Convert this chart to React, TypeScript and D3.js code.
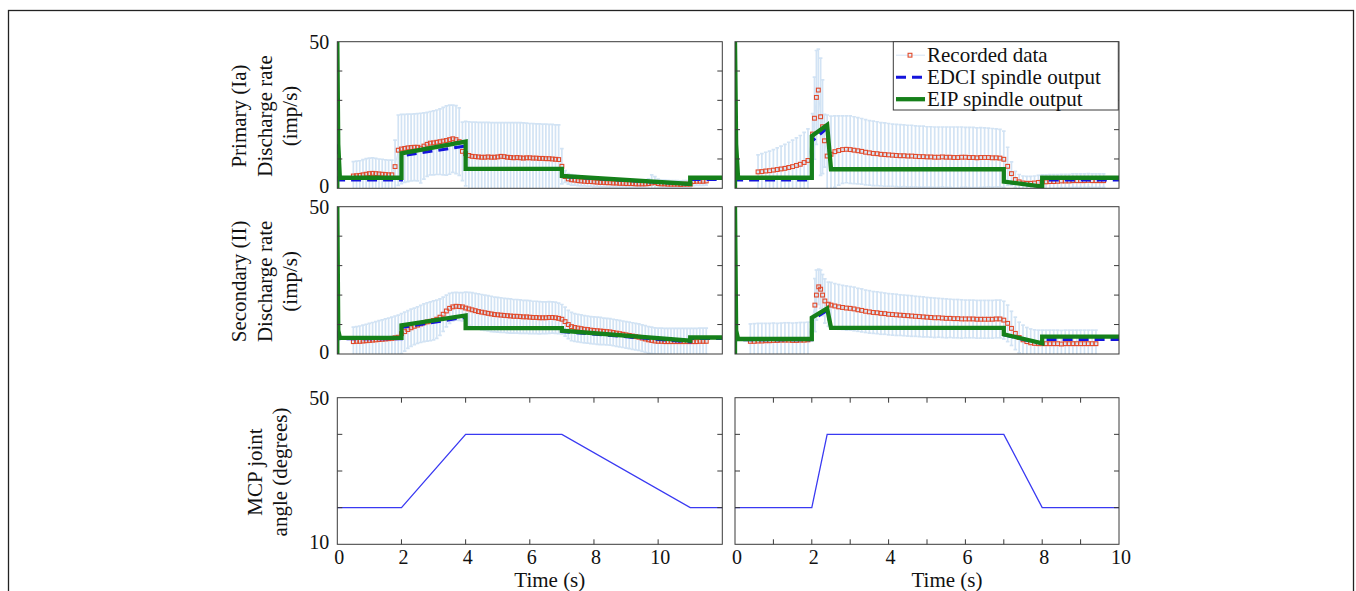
import * as d3 from "d3";

type Pt = [number, number];
type Rec = { t: number; m: number; s: number };

// recorded data is sampled every 0.1 s (the spike samples around 2 s are listed with their own times)
const STEP = 0.1;

// ---- Primary (Ia), slow stretch (left column) ----
const ia1Start = 0.5;
const ia1Mean = [
  4.2, 4.3, 4.4, 4.6, 4.8, 5.0, 5.1, 5.0, 4.9, 4.8, 4.7, 4.6, 4.6,
  7.4, 13.0, 13.4, 13.6, 13.8, 13.9, 14.0, 14.0, 13.7, 14.4,
  15.0, 15.4, 15.5, 15.7, 15.9, 16.1, 16.3, 16.6, 16.9, 16.6,
  15.9, 12.6, 11.8, 11.2, 10.9, 10.8, 10.7, 10.6, 10.6, 10.7,
  10.6, 10.6, 10.7, 10.9, 10.8, 10.6, 10.5, 10.4, 10.5, 10.4,
  10.3, 10.4, 10.4, 10.3, 10.3, 10.2, 10.2, 10.1, 10.1, 10.0,
  9.9, 9.8, 7.5, 4.0, 3.2, 2.9, 2.8, 2.6, 2.5, 2.4,
  2.3, 2.3, 2.2, 2.1, 2.0, 2.0, 1.9, 1.9, 1.8, 1.8,
  1.7, 1.7, 1.6, 1.6, 1.6, 1.5, 1.5, 1.5, 1.5, 1.6,
  1.8, 2.0, 1.6, 1.5, 1.5, 1.4, 1.4, 1.4, 1.4, 1.3,
  1.4, 1.4, 1.4, 2.3, 2.4, 2.4, 2.4, 2.5,
];
const ia1Sd = [
  4.9, 5.0, 5.0, 5.2, 5.3, 5.3, 5.3, 5.2, 5.1, 5.1, 5.0, 5.0, 5.0,
  9.0, 12.0, 11.8, 11.6, 11.5, 11.4, 11.4, 11.5, 11.9, 11.3,
  10.9, 10.8, 10.9, 11.0, 11.2, 11.5, 11.8, 11.8, 11.5, 11.6,
  11.5, 10.0, 11.0, 11.5, 11.7, 11.8, 11.8, 11.9, 11.9, 11.8,
  11.8, 11.8, 11.7, 11.5, 11.6, 11.8, 11.9, 12.0, 11.9, 12.0,
  12.0, 11.8, 11.7, 11.8, 11.7, 11.8, 11.7, 11.8, 11.7, 11.8,
  11.7, 11.8, 6.0, 2.0, 1.8, 1.8, 1.7, 1.7, 1.7, 1.6,
  1.6, 1.6, 1.6, 1.5, 1.5, 1.5, 1.5, 1.5, 1.5, 1.4,
  1.4, 1.4, 1.4, 1.4, 1.4, 1.4, 1.3, 1.3, 1.4, 1.6,
  2.8, 2.0, 1.5, 1.3, 1.3, 1.3, 1.2, 1.2, 1.2, 1.2,
  1.2, 1.2, 1.2, 1.4, 1.4, 1.4, 1.4, 1.4,
];
const ia1Eip: Pt[] = [[0, 0], [0, 50], [0.03, 15], [0.08, 3.6], [2, 3.6], [2, 11.9], [4, 15.9], [4, 6.6], [7, 6.6], [7, 4.2], [11, 1.5], [11, 3.6], [12, 3.6]];
const ia1Edci: Pt[] = [[0, 15], [0.05, 2.8], [2, 2.8], [2, 11.1], [4, 14.4], [4, 6.5], [7, 6.5], [7, 4.0], [11, 1.4], [11, 3.0], [12, 3.0]];

// ---- Primary (Ia), fast stretch (right column) ----
const ia2PreStart = 0.6;
const ia2PreMean = [5.6, 5.7, 5.9, 6.0, 6.2, 6.4, 6.6, 6.8, 7.1, 7.4, 7.8, 8.2, 8.8, 9.5];
const ia2PreSd = [5.8, 6.1, 6.4, 6.7, 7.0, 7.4, 7.8, 8.2, 8.6, 9.0, 9.4, 9.8, 10.3, 10.8];
const ia2SpikeT = [2.02, 2.07, 2.12, 2.17, 2.23, 2.28, 2.33];
const ia2SpikeMean = [18.5, 23.9, 31.0, 33.5, 24.4, 21.0, 16.2];
const ia2SpikeSd = [7.0, 14.0, 16.0, 14.0, 20.0, 16.0, 9.0];
const ia2PostStart = 2.4;
const ia2PostMean = [
  11.0, 11.6, 12.5, 12.9, 13.2, 13.3, 13.2, 13.0, 12.8, 12.6,
  12.3, 12.1, 11.9, 11.8, 11.6, 11.5, 11.4, 11.3, 11.2, 11.1,
  11.1, 11.0, 11.0, 10.9, 10.8, 10.8, 10.7, 10.7, 10.6, 10.6,
  10.7, 10.6, 10.6, 10.5, 10.5, 10.6, 10.6, 10.5, 10.5, 10.4,
  10.5, 10.5, 10.5, 10.4, 10.4, 10.3, 9.9, 7.5, 5.0, 3.0,
  2.2, 1.8, 1.7, 1.7, 1.8, 2.0, 2.2, 2.2, 2.3, 2.3,
  2.4, 2.5, 2.5, 2.5, 2.6, 2.6, 2.6, 2.6, 2.7, 2.6,
  2.6, 2.6, 2.6,
];
const ia2PostSd = [
  14.0, 13.0, 12.2, 11.8, 11.5, 11.4, 11.5, 11.4, 11.3, 11.2,
  11.1, 11.0, 11.0, 10.9, 10.8, 10.8, 10.7, 10.6, 10.6, 10.6,
  10.5, 10.5, 10.5, 10.4, 10.4, 10.4, 10.3, 10.3, 10.3, 10.3,
  10.2, 10.3, 10.3, 10.4, 10.4, 10.3, 10.2, 10.3, 10.3, 10.2,
  10.2, 10.1, 10.0, 10.0, 9.9, 9.8, 9.6, 6.5, 4.0, 2.8,
  2.5, 2.4, 2.4, 2.4, 2.4, 2.4, 2.4, 2.4, 2.4, 2.4,
  2.3, 2.3, 2.3, 2.3, 2.3, 2.3, 2.3, 2.3, 2.3, 2.3,
  2.3, 2.3, 2.3,
];
const ia2Eip: Pt[] = [[0, 0], [0, 50], [0.03, 15], [0.08, 3.6], [2, 3.6], [2, 17.8], [2.4, 21.6], [2.5, 6.5], [7, 6.5], [7, 2.3], [8, 0.6], [8, 3.6], [10, 3.6]];
const ia2Edci: Pt[] = [[0, 15], [0.05, 2.8], [2, 2.8], [2, 16], [2.4, 20.5], [2.5, 6.4], [7, 6.4], [7, 2.2], [8, 0.6], [8, 2.8], [10, 2.8]];

// ---- Secondary (II), slow stretch ----
const ii1Start = 0.5;
const ii1Mean = [
  4.2, 4.3, 4.3, 4.4, 4.5, 4.6, 4.7, 4.8, 4.9, 5.0,
  5.1, 5.2, 5.3, 5.5, 5.7, 6.9, 7.6, 8.3, 8.9, 9.4,
  9.8, 10.2, 10.6, 10.9, 11.1, 11.4, 11.8, 12.5, 13.5, 14.6,
  15.5, 16.0, 16.2, 16.1, 16.0, 15.6, 15.3, 15.0, 14.7, 14.4,
  14.2, 14.0, 13.8, 13.6, 13.4, 13.3, 13.2, 13.1, 13.0, 12.9,
  12.8, 12.8, 12.7, 12.6, 12.6, 12.5, 12.4, 12.4, 12.3, 12.3,
  12.3, 12.4, 12.4, 12.3, 12.1, 11.8, 11.0, 10.0, 9.3, 9.0,
  8.8, 8.6, 8.4, 8.3, 8.1, 8.0, 7.9, 7.8, 7.7, 7.6,
  7.5, 7.3, 7.1, 6.9, 6.7, 6.5, 6.3, 6.1, 5.9, 5.7,
  5.4, 5.1, 4.8, 4.6, 4.4, 4.3, 4.3, 4.2, 4.2, 4.2,
  4.2, 4.2, 4.2, 4.2, 4.2, 4.2, 4.2, 4.2, 4.3, 4.3, 4.3,
];
const ii1Sd = [
  4.9, 5.0, 5.2, 5.4, 5.6, 5.8, 6.0, 6.2, 6.4, 6.6,
  6.8, 7.0, 7.2, 7.4, 7.5, 6.8, 6.6, 6.4, 6.3, 6.2,
  6.2, 6.3, 6.4, 6.5, 6.6, 6.6, 6.5, 6.2, 5.8, 5.4,
  5.1, 4.8, 4.7, 4.7, 4.8, 5.4, 5.6, 5.8, 5.9, 6.0,
  6.0, 6.0, 6.0, 6.0, 5.9, 5.9, 5.9, 5.8, 5.8, 5.8,
  5.7, 5.7, 5.7, 5.6, 5.6, 5.6, 5.5, 5.5, 5.5, 5.4,
  5.4, 5.4, 5.3, 5.3, 5.2, 5.0, 4.9, 4.8, 4.8, 4.7,
  4.7, 4.7, 4.6, 4.6, 4.6, 4.6, 4.6, 4.6, 4.5, 4.5,
  4.5, 4.5, 4.5, 4.5, 4.5, 4.5, 4.5, 4.5, 4.5, 4.5,
  4.5, 4.5, 4.5, 4.5, 4.5, 4.5, 4.5, 4.5, 4.5, 4.5,
  4.5, 4.5, 4.5, 4.5, 4.5, 4.5, 4.5, 4.5, 4.5, 4.5, 4.5,
];
const ii1Eip: Pt[] = [[0, 0], [0, 50], [0.03, 8], [0.08, 5.5], [2, 5.5], [2, 9.7], [4, 13.1], [4, 8.8], [7, 8.8], [7, 7.9], [11, 4.5], [11, 5.6], [12, 5.6]];
const ii1Edci: Pt[] = [[0, 8], [0.05, 5.2], [2, 5.2], [2, 9.0], [4, 12.5], [4, 8.7], [7, 8.7], [7, 7.6], [11, 4.1], [11, 5.3], [12, 5.3]];

// ---- Secondary (II), fast stretch ----
const ii2PreStart = 0.4;
const ii2PreMean = [4.3, 4.3, 4.4, 4.4, 4.5, 4.5, 4.6, 4.6, 4.7, 4.7, 4.7, 4.6, 4.6, 4.7, 4.7, 4.8];
const ii2PreSd = [5.9, 6.0, 6.0, 6.0, 5.9, 5.9, 5.9, 5.8, 5.8, 5.9, 5.9, 5.9, 6.0, 6.0, 6.0, 6.0];
const ii2SpikeT = [2.08, 2.12, 2.18, 2.23, 2.28, 2.34, 2.43];
const ii2SpikeMean = [16.6, 20.0, 22.8, 22.0, 20.0, 18.0, 16.9];
const ii2SpikeSd = [9.0, 8.5, 6.0, 6.5, 7.0, 7.5, 7.5];
const ii2PostStart = 2.5;
const ii2PostMean = [
  16.6, 16.3, 16.0, 15.8, 15.6, 15.5, 15.3, 15.0, 14.8, 14.5,
  14.3, 14.1, 14.0, 13.8, 13.7, 13.5, 13.4, 13.3, 13.2, 13.1,
  13.0, 12.9, 12.8, 12.7, 12.6, 12.5, 12.4, 12.3, 12.3, 12.2,
  12.1, 12.1, 12.0, 12.0, 11.9, 11.9, 11.9, 11.9, 11.8, 11.8,
  11.8, 11.8, 11.8, 11.9, 11.9, 11.5, 10.4, 8.7, 7.0, 5.6,
  4.8, 4.2, 3.8, 3.6, 3.5, 3.5, 3.5, 3.5, 3.5, 3.5,
  3.4, 3.5, 3.5, 3.5, 3.5, 3.5, 3.5, 3.5, 3.5, 3.5,
];
const ii2PostSd = [
  7.7, 7.6, 7.6, 7.5, 7.5, 7.4, 7.4, 7.3, 7.3, 7.2,
  7.2, 7.1, 7.1, 7.1, 7.0, 7.0, 7.0, 7.0, 6.9, 6.9,
  6.9, 6.9, 6.8, 6.8, 6.8, 6.7, 6.7, 6.7, 6.6, 6.6,
  6.6, 6.5, 6.5, 6.5, 6.5, 6.4, 6.4, 6.4, 6.4, 6.4,
  6.4, 6.4, 6.4, 6.4, 6.4, 6.4, 6.2, 5.8, 5.5, 5.2,
  5.0, 4.8, 4.7, 4.6, 4.6, 4.6, 4.6, 4.6, 4.6, 4.6,
  4.6, 4.6, 4.6, 4.6, 4.6, 4.6, 4.6, 4.6, 4.6, 4.6,
];
const ii2Eip: Pt[] = [[0, 0], [0, 50], [0.03, 8], [0.08, 5.1], [2, 5.1], [2, 12.3], [2.4, 15.5], [2.5, 8.9], [7, 8.9], [7, 6.7], [8, 3.6], [8, 5.9], [10, 5.9]];
const ii2Edci: Pt[] = [[0, 8], [0.05, 4.8], [2, 4.8], [2, 11.5], [2.4, 14.8], [2.5, 8.8], [7, 8.8], [7, 6.5], [8, 3.5], [8, 4.9], [10, 4.9]];

// ---- MCP joint angle ----
const mcpSlow: Pt[] = [[0, 20], [2, 20], [4, 40], [7, 40], [11, 20], [12, 20]];
const mcpFast: Pt[] = [[0, 20], [2, 20], [2.4, 40], [7, 40], [8, 20], [10, 20]];

const xTickLabels = [0, 2, 4, 6, 8, 10];
const legendItems = ["Recorded data", "EDCI spindle output", "EIP spindle output"];
const yTitles = [
  ["Primary (Ia)", "Discharge rate", "(imp/s)"],
  ["Secondary (II)", "Discharge rate", "(imp/s)"],
  ["MCP joint", "angle (degrees)"],
];

const seq = (t0: number, m: number[], s: number[]): Rec[] =>
  m.map((v, i) => ({ t: +(t0 + i * STEP).toFixed(2), m: v, s: s[i] }));
const pick = (ts: number[], m: number[], s: number[]): Rec[] =>
  ts.map((t, i) => ({ t, m: m[i], s: s[i] }));

const ia1 = seq(ia1Start, ia1Mean, ia1Sd);
const ia2 = [...seq(ia2PreStart, ia2PreMean, ia2PreSd), ...pick(ia2SpikeT, ia2SpikeMean, ia2SpikeSd), ...seq(ia2PostStart, ia2PostMean, ia2PostSd)];
const ii1 = seq(ii1Start, ii1Mean, ii1Sd);
const ii2 = [...seq(ii2PreStart, ii2PreMean, ii2PreSd), ...pick(ii2SpikeT, ii2SpikeMean, ii2SpikeSd), ...seq(ii2PostStart, ii2PostMean, ii2PostSd)];

const FONT = "'Liberation Serif', 'Times New Roman', serif";
const C = { err: "#d2e3f4", rec: "#e04a2c", edci: "#1414dc", eip: "#15801a", mcp: "#3a3af2", axis: "#3a3a3a", text: "#111" };

const colX: Pt[] = [[337.3, 722.3], [735, 1119]];
const rowY: Pt[] = [[41.7, 188.3], [206.7, 354], [397.7, 544.3]];
const TICK = 5;
const SQ = 3.8;

type PanelProps = {
  id: string; col: number; row: number; xMax: number; xStep: number;
  yDom: Pt; rec?: Rec[]; edci?: Pt[]; eip?: Pt[]; mcp?: Pt[]; legend?: boolean;
};

function Panel({ id, col, row, xMax, xStep, yDom, rec, edci, eip, mcp, legend }: PanelProps) {
  const x = d3.scaleLinear().domain([0, xMax]).range(colX[col]);
  const y = d3.scaleLinear().domain(yDom).range([rowY[row][1], rowY[row][0]]);
  const [x0, x1] = x.range();
  const [yb, yt] = y.range();
  const line = d3.line<Pt>().x(d => x(d[0])).y(d => y(d[1]));
  const yTicks = d3.range(yDom[0] + 10, yDom[1], 10);
  const bottom = row === 2;
  const xTicks = bottom ? d3.range(xStep, xMax, xStep) : [];

  return (
    <g>
      <clipPath id={id}>
        <rect x={x0} y={yt} width={x1 - x0} height={yb - yt} />
      </clipPath>
      <rect x={x0} y={yt} width={x1 - x0} height={yb - yt} fill="#fff" />
      <g clipPath={`url(#${id})`}>
        {rec && (
          <g>
            <g stroke={C.err} strokeWidth={1.7}>
              {rec.map((d, i) => {
                const cx = x(d.t);
                const hi = y(d.m + d.s);
                const lo = y(d.m - d.s);
                return (
                  <g key={i}>
                    <line x1={cx} x2={cx} y1={hi} y2={lo} />
                    <line x1={cx - 1.8} x2={cx + 1.8} y1={hi} y2={hi} />
                    <line x1={cx - 1.8} x2={cx + 1.8} y1={lo} y2={lo} />
                  </g>
                );
              })}
            </g>
            <path d={line(rec.map(d => [d.t, d.m] as Pt)) || ""} fill="none" stroke={C.err} strokeWidth={1} />
            <g fill="none" stroke={C.rec} strokeWidth={1.1}>
              {rec.map((d, i) => (
                <rect key={i} x={x(d.t) - SQ / 2} y={y(d.m) - SQ / 2} width={SQ} height={SQ} />
              ))}
            </g>
          </g>
        )}
        {edci && <path d={line(edci) || ""} fill="none" stroke={C.edci} strokeWidth={3} strokeDasharray="10,6" />}
        {eip && <path d={line(eip) || ""} fill="none" stroke={C.eip} strokeWidth={4.3} />}
        {mcp && <path d={line(mcp) || ""} fill="none" stroke={C.mcp} strokeWidth={1.3} />}
      </g>
      <g stroke={C.axis} strokeWidth={1}>
        {yTicks.map(v => (
          <g key={v}>
            <line x1={x0} x2={x0 + TICK} y1={y(v)} y2={y(v)} />
            <line x1={x1} x2={x1 - TICK} y1={y(v)} y2={y(v)} />
          </g>
        ))}
        {xTicks.map(v => (
          <g key={v}>
            <line x1={x(v)} x2={x(v)} y1={yb} y2={yb - TICK} />
            <line x1={x(v)} x2={x(v)} y1={yt} y2={yt + TICK} />
          </g>
        ))}
        <rect x={x0} y={yt} width={x1 - x0} height={yb - yt} fill="none" />
      </g>
      {col === 0 && (
        <g fontFamily={FONT} fontSize={20} fill={C.text} textAnchor="end" dominantBaseline="central">
          <text x={x0 - 8} y={yt}>{yDom[1]}</text>
          <text x={x0 - 8} y={yb - 2}>{yDom[0]}</text>
        </g>
      )}
      {bottom && (
        <g fontFamily={FONT} fontSize={20} fill={C.text} textAnchor="middle">
          {xTickLabels.filter(v => v <= xMax).map(v => (
            <text key={v} x={x(v) + 2} y={yb + 20}>{v}</text>
          ))}
          <text x={(x0 + x1) / 2 + 20} y={yb + 43} fontSize={21}>Time (s)</text>
        </g>
      )}
      {legend && (
        <g fontFamily={FONT} fontSize={21} fill={C.text}>
          <rect x={893.3} y={yt} width={x1 - 893.3 - 0.7} height={68.3} fill="#fff" stroke={C.axis} strokeWidth={1} />
          {legendItems.map((name, i) => {
            const cy = yt + 13.5 + i * 22;
            return (
              <g key={name}>
                {i === 0 && (
                  <g>
                    <line x1={896} x2={925} y1={cy} y2={cy} stroke={C.err} strokeWidth={1} />
                    <rect x={910 - SQ / 2} y={cy - SQ / 2} width={SQ} height={SQ} fill="none" stroke={C.rec} strokeWidth={1.1} />
                  </g>
                )}
                {i === 1 && <line x1={896} x2={925} y1={cy} y2={cy} stroke={C.edci} strokeWidth={3} strokeDasharray="10,6" />}
                {i === 2 && <line x1={896} x2={925} y1={cy} y2={cy} stroke={C.eip} strokeWidth={4.3} />}
                <text x={927} y={cy} dominantBaseline="central">{name}</text>
              </g>
            );
          })}
        </g>
      )}
    </g>
  );
}

function YTitle({ row }: { row: number }) {
  const lines = yTitles[row];
  const cy = (rowY[row][0] + rowY[row][1]) / 2 + 1;
  const base = row === 2 ? [262, 287] : [246, 271.5, 297];
  return (
    <g fontFamily={FONT} fontSize={21} fill={C.text} textAnchor="middle">
      {lines.map((s, i) => (
        <text key={s} transform={`translate(${base[i]},${cy}) rotate(-90)`}>{s}</text>
      ))}
    </g>
  );
}

export default function App() {
  return (
    <svg width={1356} height={591} style={{ position: "absolute", left: 0, top: 0, background: "#fff" }}>
      <rect x={8.5} y={10.5} width={1345} height={640} fill="none" stroke="#222" strokeWidth={1.3} />
      <Panel id="p00" col={0} row={0} xMax={12} xStep={2} yDom={[0, 50]} rec={ia1} edci={ia1Edci} eip={ia1Eip} />
      <Panel id="p01" col={1} row={0} xMax={10} xStep={1} yDom={[0, 50]} rec={ia2} edci={ia2Edci} eip={ia2Eip} legend />
      <Panel id="p10" col={0} row={1} xMax={12} xStep={2} yDom={[0, 50]} rec={ii1} edci={ii1Edci} eip={ii1Eip} />
      <Panel id="p11" col={1} row={1} xMax={10} xStep={1} yDom={[0, 50]} rec={ii2} edci={ii2Edci} eip={ii2Eip} />
      <Panel id="p20" col={0} row={2} xMax={12} xStep={2} yDom={[10, 50]} mcp={mcpSlow} />
      <Panel id="p21" col={1} row={2} xMax={10} xStep={1} yDom={[10, 50]} mcp={mcpFast} />
      <YTitle row={0} />
      <YTitle row={1} />
      <YTitle row={2} />
    </svg>
  );
}
